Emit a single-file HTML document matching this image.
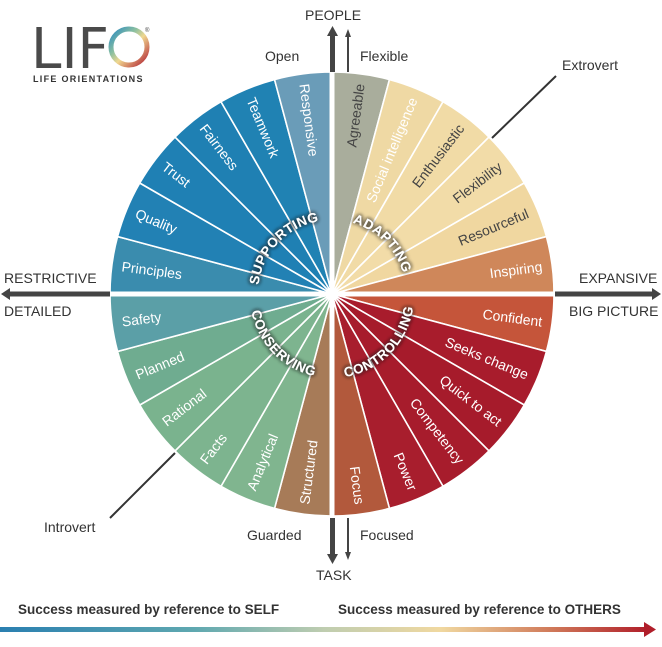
<!DOCTYPE html>
<html><head><meta charset="utf-8"><style>
html,body{margin:0;padding:0;background:#fff;}
svg text{font-family:"Liberation Sans",sans-serif;}
</style></head><body>
<svg id="s" width="662" height="642" viewBox="0 0 662 642" xmlns="http://www.w3.org/2000/svg">
<defs>
<filter id="glow" x="-20%" y="-20%" width="140%" height="140%">
<feGaussianBlur in="SourceAlpha" stdDeviation="2.2" result="b"/>
<feFlood flood-color="#222" flood-opacity="0.9"/>
<feComposite in2="b" operator="in" result="g"/>
<feMerge><feMergeNode in="g"/><feMergeNode in="g"/><feMergeNode in="SourceGraphic"/></feMerge>
</filter>
<linearGradient id="bar" x1="0" x2="1" y1="0" y2="0">
<stop offset="0" stop-color="#2a7fb0"/><stop offset="0.3" stop-color="#5fa8b0"/>
<stop offset="0.5" stop-color="#bfcdb0"/><stop offset="0.68" stop-color="#f0d8a0"/>
<stop offset="0.85" stop-color="#d07a5a"/><stop offset="1" stop-color="#b01e2a"/>
</linearGradient>
<linearGradient id="ring" x1="0" y1="0" x2="1" y2="1">
<stop offset="0" stop-color="#2a8ac0"/><stop offset="0.35" stop-color="#8cc0a0"/>
<stop offset="0.55" stop-color="#f0d890"/><stop offset="1" stop-color="#b02030"/>
</linearGradient>
<path id="arcS" d="M 258 296 A 74 74 0 0 1 330 220"/>
<path id="arcA" d="M 334 220 A 74 74 0 0 1 406 292"/>
<path id="arcC" d="M 250 296 A 82 82 0 0 0 330 378"/>
<path id="arcK" d="M 334 378 A 82 82 0 0 0 414 296"/>
</defs>
<g id="wedges"></g>
<g id="labels" font-size="14" fill="#fff"></g>
<rect x="329.5" y="70" width="5" height="450" fill="#fff"/>
<rect x="108" y="291.5" width="450" height="5" fill="#fff"/>
<g font-size="13.5" font-weight="bold" fill="#fff" filter="url(#glow)" letter-spacing="0.5">
<text><textPath href="#arcS" startOffset="50%" text-anchor="middle">SUPPORTING</textPath></text>
<text><textPath href="#arcA" startOffset="50%" text-anchor="middle">ADAPTING</textPath></text>
<text><textPath href="#arcC" startOffset="50%" text-anchor="middle">CONSERVING</textPath></text>
<text><textPath href="#arcK" startOffset="50%" text-anchor="middle">CONTROLLING</textPath></text>
</g>
<g fill="#444">
<rect x="330" y="34" width="5" height="38"/><polygon points="327,36 332.5,26 338,36"/>
<rect x="347" y="34" width="2" height="38"/><polygon points="345,37 348,29 351,37"/>
<rect x="330" y="518" width="5" height="38"/><polygon points="327,554 332.5,564 338,554"/>
<rect x="347" y="518" width="2" height="36"/><polygon points="345,552 348,560 351,552"/>
<rect x="8" y="291.5" width="102" height="5"/><polygon points="10,288 1,294 10,300"/>
<rect x="555" y="291.5" width="98" height="5"/><polygon points="652,288 661,294 652,300"/>
<line x1="492" y1="138" x2="556" y2="76" stroke="#333" stroke-width="2"/>
<line x1="175" y1="453" x2="110" y2="518" stroke="#333" stroke-width="2"/>
</g>
<g font-size="14" fill="#333">
<text x="305" y="20">PEOPLE</text>
<text x="265" y="61">Open</text>
<text x="360" y="61">Flexible</text>
<text x="562" y="70">Extrovert</text>
<text x="4" y="283">RESTRICTIVE</text>
<text x="4" y="316">DETAILED</text>
<text x="579" y="283">EXPANSIVE</text>
<text x="569" y="316">BIG PICTURE</text>
<text x="44" y="532">Introvert</text>
<text x="247" y="540">Guarded</text>
<text x="360" y="540">Focused</text>
<text x="316" y="580">TASK</text>
</g>
<g font-size="13.5" font-weight="bold" fill="#333">
<text x="18" y="614">Success measured by reference to SELF</text>
<text x="338" y="614">Success measured by reference to OTHERS</text>
</g>
<rect x="0" y="627" width="648" height="5" fill="url(#bar)"/>
<polygon points="644,622 656,629.5 644,637" fill="#b01e2a"/>
<g fill="#444">
<text x="31" y="68" font-size="56" fill="#4a4a4a" style="font-family:'DejaVu Sans',sans-serif" textLength="78" lengthAdjust="spacingAndGlyphs">LIF</text>
<circle cx="129" cy="47" r="18" fill="none" stroke="url(#ring)" stroke-width="5"/>
<text x="145" y="32" font-size="6">®</text>
<text x="33" y="82" font-size="9" font-weight="bold" letter-spacing="1.3" fill="#333">LIFE ORIENTATIONS</text>
</g>
</svg>
<script>
const cx=332,cy=294,R=222,ns="http://www.w3.org/2000/svg";
const data=[
["Agreeable","#a9ad9c",-90],["Social intelligence","#efd9a4",-75],["Enthusiastic","#f1dba6",-60],["Flexibility","#f2dca8",-45],["Resourceful","#f0d7a0",-30],["Inspiring","#cf875a",-15],
["Confident","#c5553a",0],["Seeks change","#a81c2c",15],["Quick to act","#a61b2b",30],["Competency","#a71c2c",45],["Power","#a81e2d",60],["Focus","#b2593c",75],
["Structured","#a77b58",90],["Analytical","#80b58f",105],["Facts","#7db48f",120],["Rational","#7ab38e",135],["Planned","#6fac90",150],["Safety","#5b9fa7",165],
["Principles","#3a8cae",180],["Quality","#2281b4",195],["Trust","#1f80b4",210],["Fairness","#1f80b3",225],["Teamwork","#2082b3",240],["Responsive","#6a9cb8",255]];
const W=document.getElementById("wedges"),L=document.getElementById("labels");
function pt(a,r){const t=a*Math.PI/180;return [cx+r*Math.cos(t),cy+r*Math.sin(t)];}
data.forEach(([name,col,a0])=>{
  const a1=a0+15,p0=pt(a0,R),p1=pt(a1,R);
  const p=document.createElementNS(ns,"path");
  p.setAttribute("d",`M${cx},${cy} L${p0[0]},${p0[1]} A${R},${R} 0 0 1 ${p1[0]},${p1[1]} Z`);
  p.setAttribute("fill",col);p.setAttribute("stroke","#fff");p.setAttribute("stroke-width","1.6");p.setAttribute("stroke-linejoin","round");
  W.appendChild(p);
  const m=a0+7.5;const right=(m>-90&&m<90);
  const t=document.createElementNS(ns,"text");
  const q=pt(m,212);
  t.setAttribute("x",q[0]);t.setAttribute("y",q[1]);
  t.setAttribute("dominant-baseline","central");
  t.setAttribute("text-anchor",right?"end":"start");
  t.setAttribute("transform",`rotate(${right?m:m+180} ${q[0]} ${q[1]})`);
  if(col.startsWith("#f")||col=="#a9ad9c")t.setAttribute("fill","#444");
  t.textContent=name;L.appendChild(t);
});
</script>
</body></html>
